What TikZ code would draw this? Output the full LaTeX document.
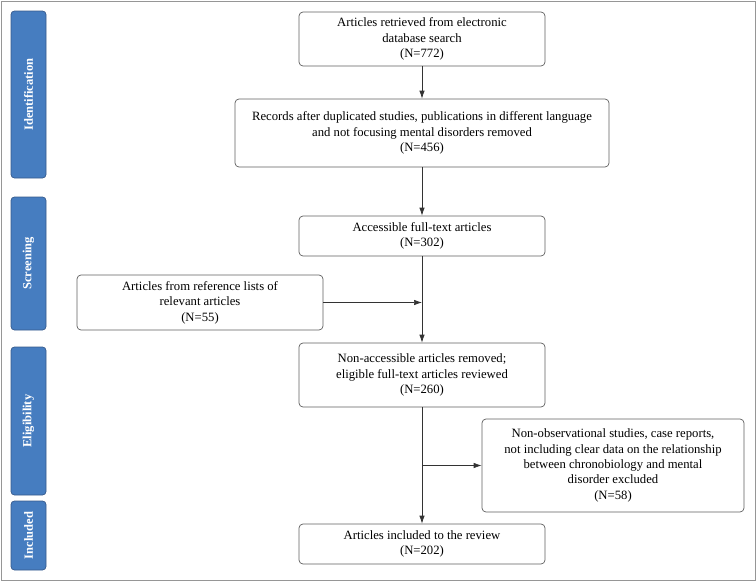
\documentclass[tikz,border=0pt]{standalone}
\usepackage{fontspec}
\setmainfont{Liberation Serif}
\usetikzlibrary{arrows.meta}
\definecolor{barblue}{RGB}{70,125,192}
\definecolor{barline}{RGB}{55,90,140}
\definecolor{boxline}{RGB}{95,95,95}
\definecolor{frameline}{RGB}{150,150,150}
\begin{document}
\begin{tikzpicture}[x=1pt,y=-1pt,
  flowbox/.style={draw=boxline,line width=0.7pt,rounded corners=4pt,fill=white,
    align=center,inner sep=0pt,font=\fontsize{12.7}{15.4}\selectfont},
  phasebar/.style={draw=barline,line width=0.7pt,fill=barblue,rounded corners=3.5pt,
    minimum width=35pt,inner sep=0pt,text=white,
    font=\fontsize{12.5}{14}\selectfont\bfseries},
  flowarrow/.style={draw=black!80,line width=0.7pt,-{Latex[length=8pt,width=5.5pt]}},
  flowline/.style={draw=black!80,line width=0.7pt}]
\useasboundingbox (0,0) rectangle (756,581);
\draw[frameline,line width=1pt] (1,1) rectangle (755,580);

% phase bars
\node[phasebar,minimum height=167pt] (pid) at (28.5,94.5) {\rotatebox{90}{Identification}};
\node[phasebar,minimum height=133pt] (psc) at (28.5,263.5) {\rotatebox{90}{Screening}};
\node[phasebar,minimum height=148pt] (pel) at (28.5,421) {\rotatebox{90}{Eligibility}};
\node[phasebar,minimum height=69pt] (pin) at (28.5,535.5) {\rotatebox{90}{Included}};

% boxes
\node[flowbox,minimum width=246pt,minimum height=54pt] (b1) at (422,39)
  {Articles retrieved from electronic\\database search\\(N=772)};
\node[flowbox,minimum width=374pt,minimum height=68pt] (b2) at (422,133)
  {Records after duplicated studies, publications in different language\\and not focusing mental disorders removed\\(N=456)};
\node[flowbox,minimum width=246pt,minimum height=40pt] (b3) at (422,236)
  {Accessible full-text articles\\(N=302)};
\node[flowbox,minimum width=246pt,minimum height=55pt] (bl) at (200,302.5)
  {Articles from reference lists of\\relevant articles\\(N=55)};
\node[flowbox,minimum width=246pt,minimum height=64pt] (b4) at (422,375)
  {Non-accessible articles removed;\\eligible full-text articles reviewed\\(N=260)};
\node[flowbox,minimum width=262pt,minimum height=93pt] (bx) at (613,465.5)
  {Non-observational studies, case reports,\\not including clear data on the relationship\\between chronobiology and mental\\disorder excluded\\(N=58)};
\node[flowbox,minimum width=246pt,minimum height=40pt] (b5) at (422,544)
  {Articles included to the review\\(N=202)};

\coordinate (jl) at (b3.south |- bl.east);
\coordinate (jx) at (b4.south |- bx.west);

% connectors
\draw[flowarrow] (b1) -- (b2);
\draw[flowarrow] (b2) -- (b3);
\draw[flowarrow] (b3) -- (b4);
\draw[flowarrow] (bl.east) -- (jl);
\draw[flowarrow] (b4) -- (b5);
\draw[flowarrow] (jx) -- (bx.west);
\end{tikzpicture}
\end{document}
